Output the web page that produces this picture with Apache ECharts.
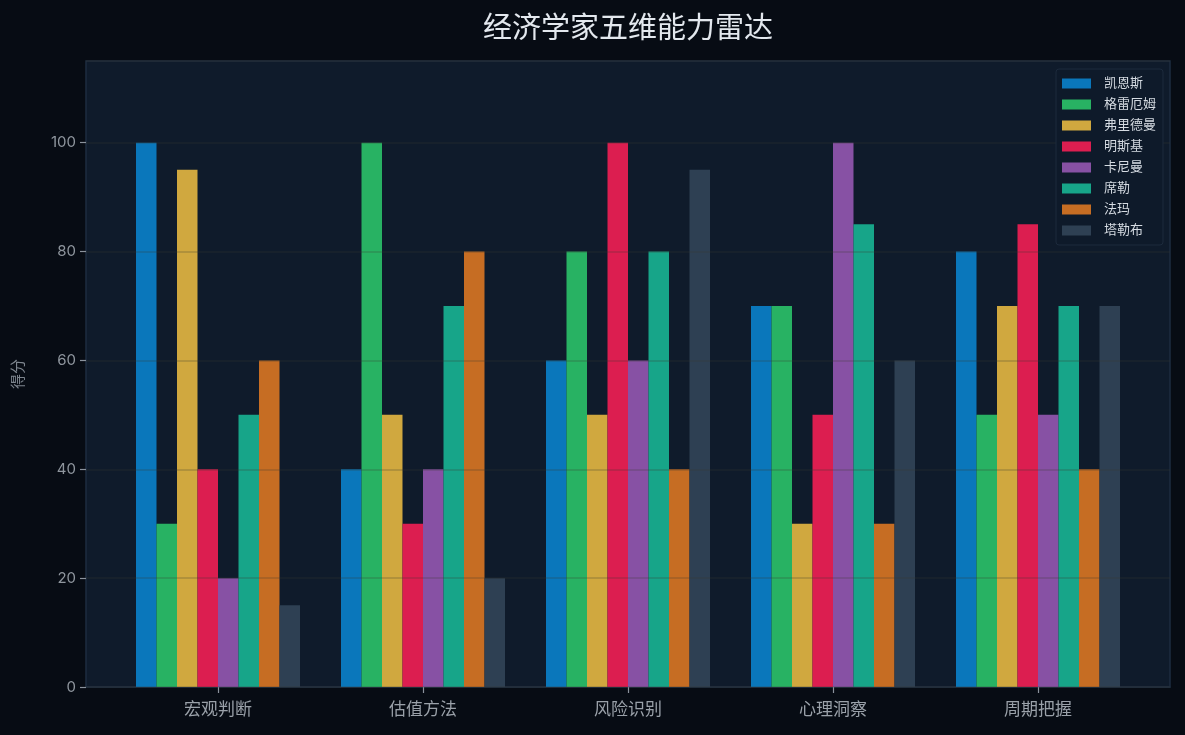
<!DOCTYPE html>
<html>
<head>
<meta charset="utf-8">
<script src="https://cdn.jsdelivr.net/npm/echarts@6/dist/echarts.min.js"></script>
<style>
  html, body { margin: 0; padding: 0; background: #070c14; }
  #chartView { width: 1185px; height: 735px; }
</style>
</head>
<body>
<div id="chartView"></div>
<script>
// 维度 / 经济学家
var dimensions = ['宏观判断', '估值方法', '风险识别', '心理洞察', '周期把握'];
var economists = ['凯恩斯', '格雷厄姆', '弗里德曼', '明斯基', '卡尼曼', '席勒', '法玛', '塔勒布'];
var colors = ['#0a77bb', '#28b263', '#d0a83f', '#dc1e50', '#8751a4', '#17a589', '#c66d23', '#2e4053'];

var keynes   = [100, 40, 60, 70, 80];
var graham   = [30, 100, 80, 70, 50];
var friedman = [95, 50, 50, 30, 70];
var minsky   = [40, 30, 100, 50, 85];
var kahneman = [20, 40, 60, 100, 50];
var shiller  = [50, 70, 80, 85, 70];
var fama     = [60, 80, 40, 30, 40];
var taleb    = [15, 20, 95, 60, 70];
var scores = [keynes, graham, friedman, minsky, kahneman, shiller, fama, taleb];

var yTicks = [0, 20, 40, 60, 80, 100];
var yMax = 115;

var font = "Inter, 'Noto Sans CJK SC', sans-serif";
var myChart = echarts.init(document.getElementById('chartView'));

var series = [];
economists.forEach(function (name, i) {
    series.push({
        name: name,
        type: 'bar',
        xAxisIndex: 1,
        yAxisIndex: 1,
        data: scores[i],
        barGap: '0%',
        barCategoryGap: '20%',
        itemStyle: { color: colors[i] }
    });
});

var options = {
    backgroundColor: '#070c14',
    color: colors,
    textStyle: { fontFamily: font },
    title: {
        text: '经济学家五维能力雷达',
        left: 478,
        top: 10,
        textStyle: { color: '#e3e8ee', fontSize: 29, fontWeight: 'normal', fontFamily: font }
    },
    legend: {
        data: economists,
        orient: 'vertical',
        right: 22,
        top: 69,
        itemWidth: 29,
        itemHeight: 10,
        itemGap: 8,
        padding: [8, 7, 8, 6],
        backgroundColor: '#0e1a2a',
        borderColor: '#1c2a3c',
        borderWidth: 1,
        borderRadius: 3,
        icon: 'rect',
        textStyle: { color: '#d5dbe2', fontSize: 13, fontFamily: font, padding: [0, 0, 0, 8] }
    },
    grid: [
        {   // 背景与纵轴
            left: 86, right: 15, top: 61, bottom: 48,
            show: true,
            backgroundColor: '#0f1b2b',
            borderColor: '#1e2d40',
            borderWidth: 1.5
        },
        {   // 柱子（两侧留白）
            left: 115.5, right: 44.5, top: 61, bottom: 48
        }
    ],
    xAxis: [
        {
            type: 'category',
            gridIndex: 0,
            data: dimensions,
            axisLine: { lineStyle: { color: '#1e2d40', width: 1.5 } },
            axisTick: { show: false },
            axisLabel: { show: false }
        },
        {
            type: 'category',
            gridIndex: 1,
            data: dimensions,
            axisLine: { show: true, lineStyle: { color: 'rgba(0,0,0,0)' } },
            axisTick: { show: true, alignWithLabel: true, length: 6, lineStyle: { color: '#8a929c', width: 1.2 } },
            axisLabel: { color: '#9aa1a9', fontSize: 17, margin: 14, fontFamily: font }
        }
    ],
    yAxis: [
        {
            type: 'value',
            gridIndex: 0,
            min: yTicks[0],
            max: yMax,
            interval: 20,
            z: 3,
            name: '得分',
            nameLocation: 'middle',
            nameGap: 60,
            nameTextStyle: { color: '#7d858e', fontSize: 15, fontFamily: font },
            axisLine: { show: false },
            axisTick: { show: true, length: 6, lineStyle: { color: '#8a929c', width: 1.2 } },
            axisLabel: {
                color: '#8f969e', fontSize: 15, margin: 10, fontFamily: font,
                showMaxLabel: false,
                formatter: function (v) { return yTicks.indexOf(v) >= 0 ? v : ''; }
            },
            splitLine: { show: true, lineStyle: { color: 'rgba(60,60,50,0.28)', width: 1.5 } }
        },
        {
            type: 'value',
            gridIndex: 1,
            min: yTicks[0],
            max: yMax,
            show: false,
            splitLine: { show: false }
        }
    ],
    series: series
};
myChart.setOption(options);
</script>
</body>
</html>
